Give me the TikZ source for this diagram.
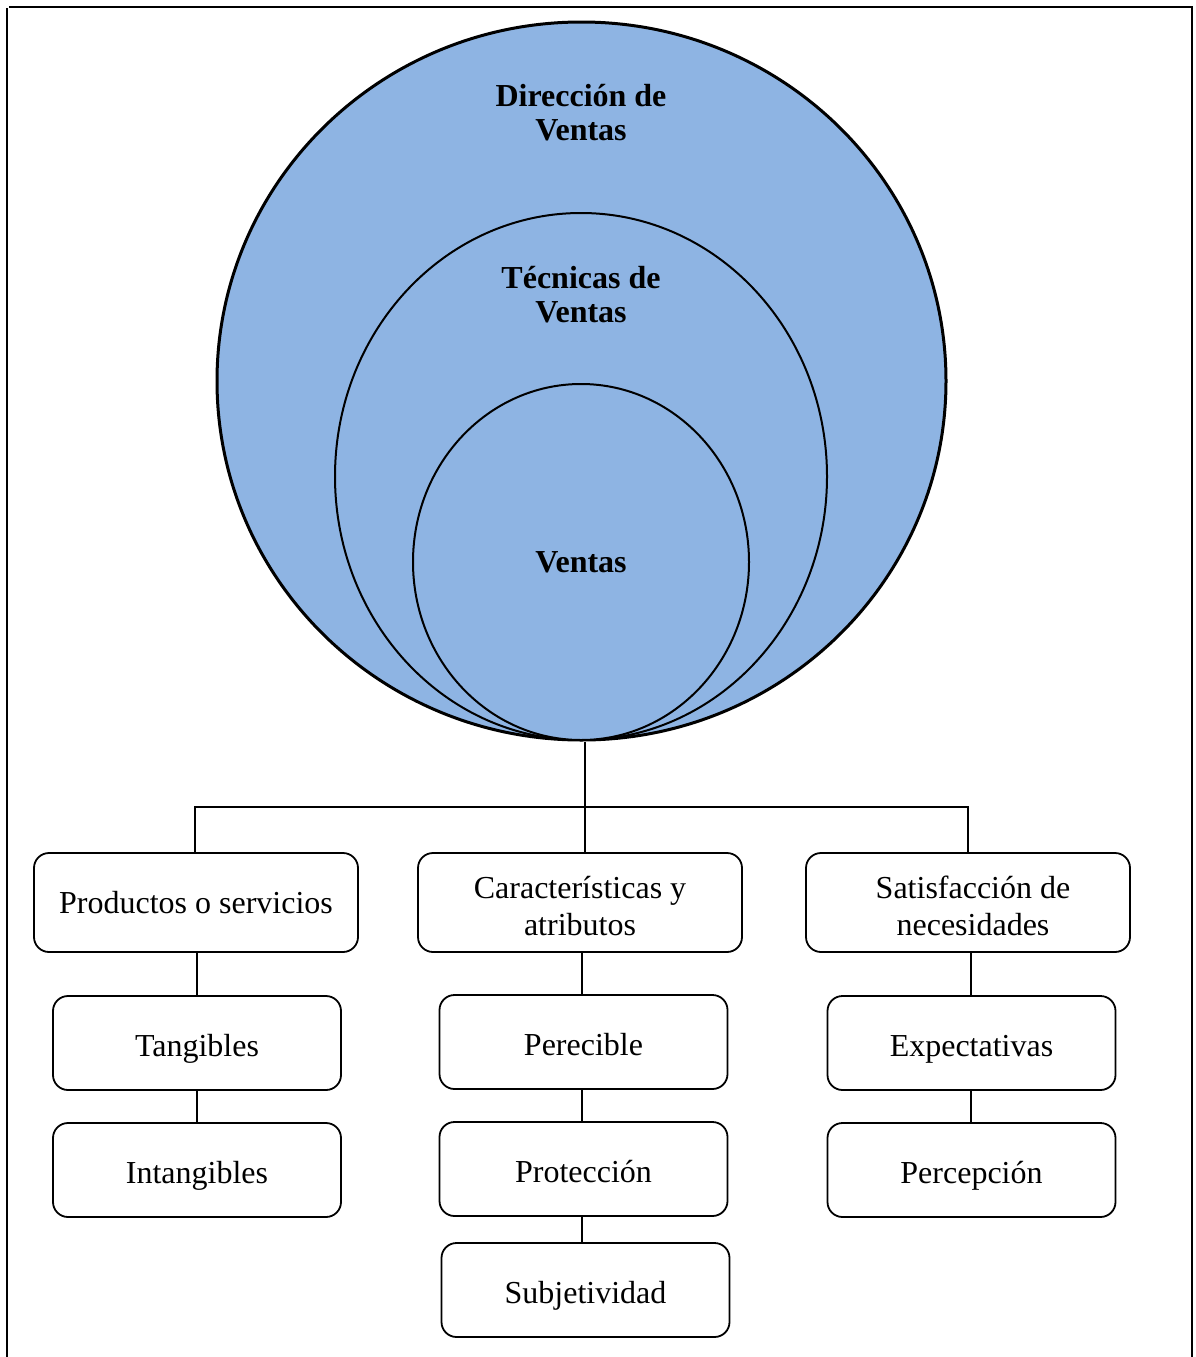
\documentclass[tikz,border=0pt]{standalone}
\usepackage{fontspec}
\setmainfont{Liberation Serif}
\usetikzlibrary{shapes.geometric}
\definecolor{circfill}{RGB}{142,180,227}
\newcommand{\topstrut}{\rule{0pt}{29pt}}
\begin{document}
\begin{tikzpicture}[x=1pt,y=-1pt,
  txt/.style={font=\fontsize{32}{37}\selectfont, align=center},
  btxt/.style={font=\bfseries\fontsize{32}{34}\selectfont, align=center},
  ring/.style={ellipse, draw, fill=circfill, inner sep=0pt, line width=2pt},
  card/.style={draw, rounded corners=15pt, line width=1.8pt, txt, inner sep=0pt},
  oneline/.style={text height=26pt, text depth=0pt},
  topcard/.style={card, minimum width=324pt, minimum height=99pt},
  subcard/.style={card, oneline, minimum width=288pt, minimum height=94pt},
  link/.style={line width=1.9pt}
]
\useasboundingbox (0,0) rectangle (1195,1357);

% open frame around the figure
\draw[line width=2pt] (6.5,8) -- (6.5,1357);
\draw[line width=2pt] (9,6.5) -- (1191.5,6.5) -- (1191.5,1357);

% nested circles
\node[ring, line width=3pt, minimum width=729pt, minimum height=718pt] (outer) at (581.5,381) {};
\node[ring, minimum width=492pt, minimum height=527pt] (middle) at (581,476.5) {};
\node[ring, minimum width=336pt, minimum height=356pt] (inner) at (581,562) {};

\node[btxt] (tdir) at (581,113) {Dirección de\\Ventas};
\node[btxt] (ttec) at (581,295) {Técnicas de\\Ventas};
\node[btxt] (tven) at (581,562) {Ventas};

% first level boxes
\node[topcard, text height=26pt, text depth=4pt] (p1) at (196,902.5) {Productos o servicios};
\node[topcard] (c1) at (580,902.5) {\topstrut Características y\\atributos};
\node[topcard] (s1) at (968,902.5) {\topstrut\hspace*{10pt}Satisfacción de\\\hspace*{10pt}necesidades};

% second level boxes
\node[subcard] (p2) at (197,1043) {Tangibles};
\node[subcard] (p3) at (197,1170) {Intangibles};
\node[subcard] (c2) at (583.5,1042) {Perecible};
\node[subcard] (c3) at (583.5,1169) {Protección};
\node[subcard] (c4) at (585.5,1290) {Subjetividad};
\node[subcard] (s2) at (971.5,1043) {Expectativas};
\node[subcard] (s3) at (971.5,1170) {Percepción};

% tree connectors
\coordinate (bus) at (585,807);
\draw[link, line width=2pt] ([xshift=3.5pt]outer.south) -- ([xshift=3.5pt]outer.south |- c1.north);
\draw[link] ([xshift=-1pt]p1.north) |- (bus) -| (s1.north);

\draw[link] (p2.north) -- (p2.north |- p1.south);
\draw[link] (p3.north) -- (p2.south);
\draw[link] ([xshift=-1.5pt]c2.north) -- ([xshift=-1.5pt]c2.north |- c1.south);
\draw[link] ([xshift=-1.5pt]c3.north) -- ([xshift=-1.5pt]c2.south);
\draw[link] ([xshift=-1.5pt]c3.south) -- ([xshift=-1.5pt]c3.south |- c4.north);
\draw[link] ([xshift=-0.5pt]s2.north) -- ([xshift=-0.5pt]s2.north |- s1.south);
\draw[link] ([xshift=-0.5pt]s3.north) -- ([xshift=-0.5pt]s2.south);
\end{tikzpicture}
\end{document}
